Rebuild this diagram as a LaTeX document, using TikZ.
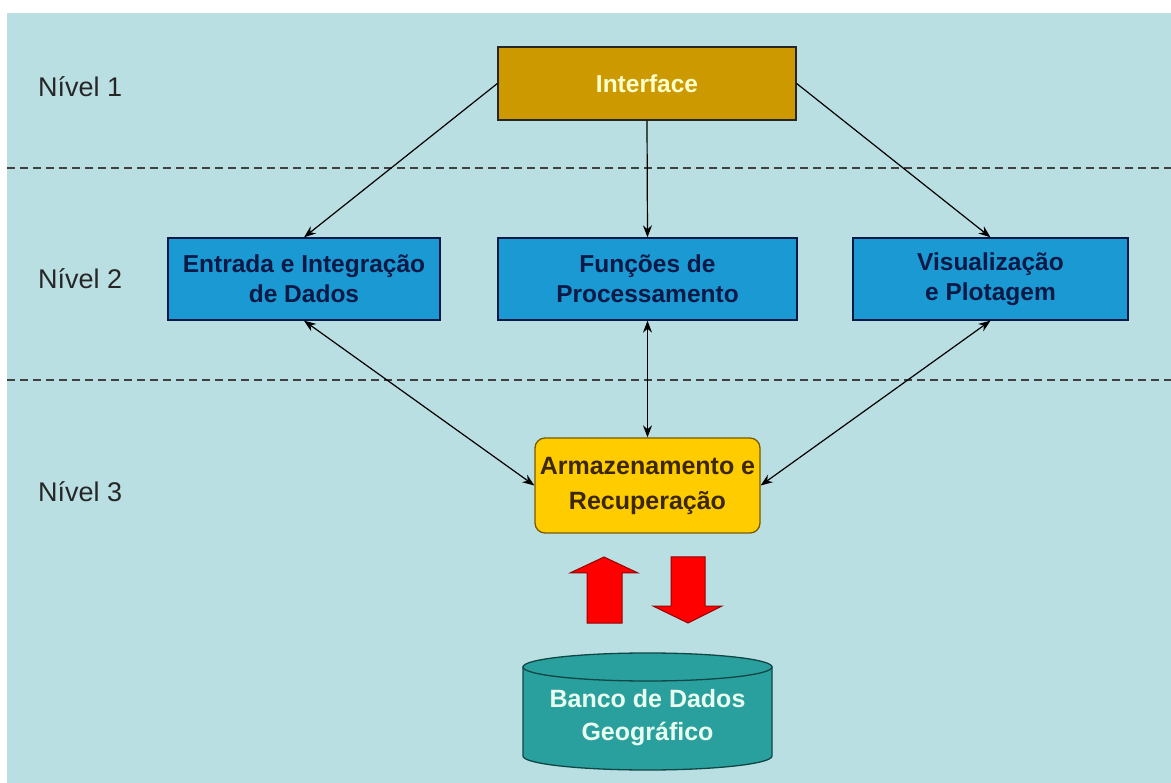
\documentclass[tikz,border=0pt]{standalone}
\usepackage{fontspec}
\setmainfont{Liberation Sans}
\usepackage{xcolor}
\usetikzlibrary{arrows.meta}

\definecolor{bgblue}{RGB}{186,223,227}
\definecolor{ifacefill}{RGB}{204,153,0}
\definecolor{ifacetext}{RGB}{255,255,204}
\definecolor{modfill}{RGB}{27,153,210}
\definecolor{modtext}{RGB}{10,25,70}
\definecolor{armfill}{RGB}{255,204,0}
\definecolor{armtext}{RGB}{60,40,0}
\definecolor{armline}{RGB}{120,90,0}
\definecolor{dbfill}{RGB}{42,160,158}
\definecolor{dbtext}{RGB}{232,255,240}
\definecolor{dbline}{RGB}{15,70,70}
\definecolor{redline}{RGB}{150,0,0}

\begin{document}
\begin{tikzpicture}[x=1pt,y=-1pt,>={Stealth[length=12pt,width=9pt]},
	boxtext/.style={font=\fontsize{24.5}{30}\selectfont\bfseries,align=center,inner sep=0pt},
	ifacebox/.style={boxtext,draw=black!85,line width=1.3pt,fill=ifacefill,text=ifacetext,minimum width=298,minimum height=73},
	modbox/.style={boxtext,draw=modtext,line width=1.3pt,fill=modfill,text=modtext,minimum height=82},
	armbox/.style={boxtext,draw=armline,line width=1.3pt,fill=armfill,text=armtext,rounded corners=10pt,minimum width=225,minimum height=95,font=\fontsize{25}{35}\selectfont\bfseries},
	level/.style={anchor=west,inner sep=0pt,font=\fontsize{27}{30}\selectfont,text=black!85},
	link/.style={line width=1.2pt,black}]
		\useasboundingbox (0,0) rectangle (1171,783);
		\fill[white] (0,0) rectangle (1171,783);
		\fill[bgblue] (7,13) rectangle (1171,783);
		
		% separadores de nivel
		\draw[line width=1.2pt,black!75,dash pattern=on 8pt off 5pt] (7,168) -- (1171,168);
		\draw[line width=1.2pt,black!75,dash pattern=on 8pt off 5pt] (7,380) -- (1171,380);
		
		\node[level] (n1) at (38,87) {Nível 1};
		\node[level] (n2) at (38,279) {Nível 2};
		\node[level] (n3) at (38,492) {Nível 3};
		
		\node[ifacebox] (iface) at (647,83.5) {Interface};
		
		\node[modbox,minimum width=272] (entrada) at (304,279) {Entrada e Integração\\de Dados};
		\node[modbox,minimum width=299] (funcoes) at (647.5,279) {Funções de\\Processamento};
		\node[modbox,minimum width=275] (visual) at (990.5,279) {Visualização\\e Plotagem};
		
		\node[armbox] (arm) at (647.5,485.5) {Armazenamento e\\Recuperação};
		
		\draw[link,->] (iface.west) -- (entrada.north);
		\draw[link,->] (iface.south) -- (funcoes.north);
		\draw[link,->] (iface.east) -- (visual.north);
		
		\draw[link,<->] (entrada.south) -- (arm.west);
		\draw[link,<->] (funcoes.south) -- (arm.north);
		\draw[link,<->] (visual.south) -- (arm.east);
		
		% setas vermelhas
		\filldraw[red,draw=redline,line width=1pt] (587,623) -- (587,573) -- (570,573) -- (604,557) -- (638,573) -- (622,573) -- (622,623) -- cycle;
		\filldraw[red,draw=redline,line width=1pt] (671,557) -- (705,557) -- (705,606) -- (722,606) -- (688,623) -- (653,606) -- (671,606) -- cycle;
		
		% banco de dados
		\filldraw[fill=dbfill,draw=dbline,line width=1.3pt] (523,667) -- (523,756) arc[start angle=180,end angle=0,x radius=124.5,y radius=14] -- (772,667) -- cycle;
		\filldraw[fill=dbfill,draw=dbline,line width=1.3pt] (647.5,667) ellipse[x radius=124.5,y radius=14];
		\node[boxtext,text=dbtext,font=\fontsize{25}{33}\selectfont\bfseries] (db) at (647.5,718) {Banco de Dados\\Geográfico};
	\end{tikzpicture}
\end{document}
